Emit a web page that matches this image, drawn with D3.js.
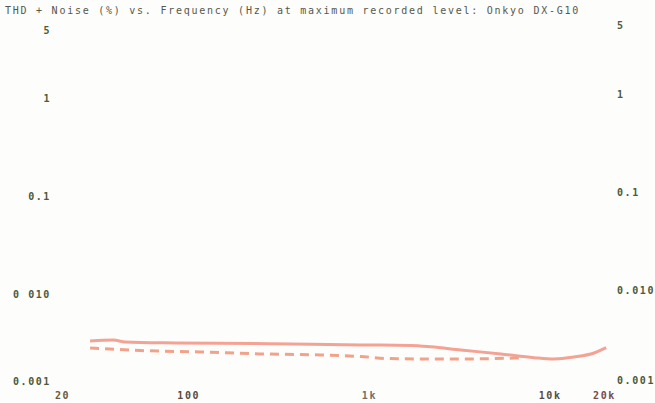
<!DOCTYPE html>
<html>
<head>
<meta charset="utf-8">
<script src="https://cdn.jsdelivr.net/npm/d3@7"></script>
<style>
  html, body { margin: 0; padding: 0; background: #fdfdfb; }
  svg { display: block; }
  .lbl { font-family: "DejaVu Sans Mono", monospace; font-weight: bold; font-size: 10px; letter-spacing: 1.6px; }
  .title { font-family: "DejaVu Sans Mono", monospace; font-size: 10px; letter-spacing: 1.75px; fill: #55584c; }
</style>
</head>
<body>
<svg id="chart" width="655" height="403"></svg>
<script>
// THD+N sweep, frequency in Hz, level in percent
const solidFreq = [28.6, 38.4, 44.7, 84.7, 285, 900, 1700, 2200, 3222, 5374, 8192, 10568, 13650, 17620, 20560];
const solidThd  = [0.00324, 0.00331, 0.00316, 0.00309, 0.00304, 0.00295, 0.00292, 0.00283, 0.00262, 0.00239, 0.00219, 0.00212, 0.00222, 0.00244, 0.00277];
const dashFreq  = [28.6, 54.2, 116.5, 250.6, 539.4, 900, 1300, 2500, 4160, 7000];
const dashThd   = [0.00275, 0.00259, 0.00250, 0.00239, 0.00233, 0.00225, 0.00214, 0.00212, 0.00213, 0.00218];

const yTicks = [5, 1, 0.1, 0.01, 0.001];
const yTickLabels = ["5", "1", "0.1", "0.010", "0.001"];
const yTickLabelsLeft = ["5", "1", "0.1", "0 010", "0.001"];
const xTicks = [20, 100, 1000, 10000, 20000];
const xTickLabels = ["20", "100", "1k", "10k", "20k"];
const xTickColors = ["#6b5a3e", "#5b4a40", "#707068", "#5a4a44", "#7a4a4a"];

const titleText = "THD + Noise (%) vs. Frequency (Hz) at maximum recorded level: Onkyo DX-G10";

const svg = d3.select("#chart");

const x = d3.scaleLog().domain([20, 20000]).range([62, 604]);
const y = d3.scaleLog().domain([0.001, 5]).range([391, 28.5]);

// title
svg.append("text").attr("class", "title")
  .attr("x", 5).attr("y", 14).text(titleText);

// left axis labels (right-aligned)
const leftAxis = d3.axisLeft(y).tickValues(yTicks).tickSize(0).tickPadding(0)
  .tickFormat((d, i) => yTickLabelsLeft[i]);
const gl = svg.append("g").attr("transform", "translate(51,0)").call(leftAxis);
gl.select(".domain").remove();
gl.selectAll("text").attr("class", "lbl").attr("fill", "#4e5a3a")
  .attr("font-family", null).attr("font-size", null)
  .attr("dy", (d) => d === 0.001 ? "-0.65em" : "0.45em");

// right axis labels (left-aligned)
const rightAxis = d3.axisRight(y).tickValues(yTicks).tickSize(0).tickPadding(0)
  .tickFormat((d, i) => yTickLabels[i]);
const gr = svg.append("g").attr("transform", "translate(617,0)").call(rightAxis);
gr.select(".domain").remove();
gr.selectAll("text").attr("class", "lbl").attr("fill", "#4e5a3a")
  .attr("font-family", null).attr("font-size", null)
  .attr("dy", (d) => d === 0.001 ? "-0.8em" : (d === 5 ? "0.0em" : "0.1em"));

// bottom axis labels
const bottomAxis = d3.axisBottom(x).tickValues(xTicks).tickSize(0).tickPadding(0)
  .tickFormat((d, i) => xTickLabels[i]);
const gb = svg.append("g").attr("transform", "translate(0,391)").call(bottomAxis);
gb.select(".domain").remove();
gb.selectAll("text").attr("class", "lbl")
  .attr("font-family", null).attr("font-size", null)
  .attr("fill", (d, i) => xTickColors[i])
  .attr("dy", "0.75em");

const line = d3.line()
  .x(d => x(d[0]))
  .y(d => y(d[1]))
  .curve(d3.curveMonotoneX);

// dashed trace
svg.append("path")
  .datum(dashFreq.map((f, i) => [f, dashThd[i]]))
  .attr("d", line)
  .attr("fill", "none")
  .attr("stroke", "#f3a28a")
  .attr("stroke-width", 3)
  .attr("stroke-dasharray", "9,6");

// solid trace
svg.append("path")
  .datum(solidFreq.map((f, i) => [f, solidThd[i]]))
  .attr("d", line)
  .attr("fill", "none")
  .attr("stroke", "#f4a294")
  .attr("stroke-width", 3);
</script>
</body>
</html>
